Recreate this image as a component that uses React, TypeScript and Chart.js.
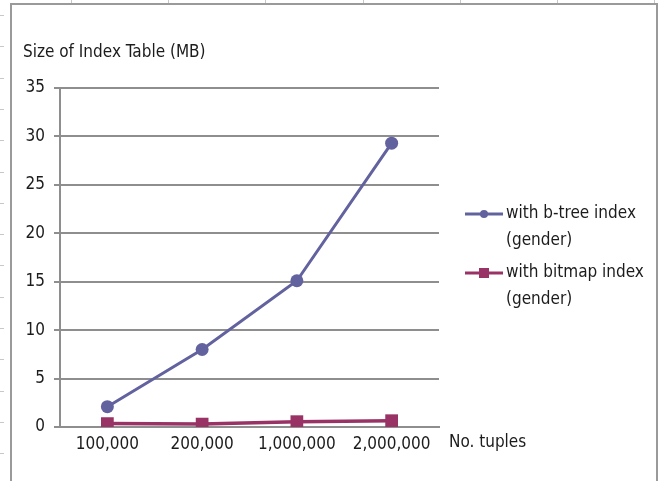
import React, { useEffect, useRef } from "react";
import { Chart, registerables } from "chart.js";

Chart.register(...registerables);

const categories = ["100,000", "200,000", "1,000,000", "2,000,000"];
const btreeValues = [2.1, 8.0, 15.1, 29.3];
const bitmapValues = [0.35, 0.3, 0.55, 0.65];
const seriesNames = [["with b-tree index", "(gender)"], ["with bitmap index", "(gender)"]];
const yTitle = "Size of Index Table (MB)";
const xTitle = "No. tuples";

const FONT = "'Liberation Sans Narrow', 'DejaVu Sans Condensed', sans-serif";
const TEXT = "#1c1c1c";
const GRID = "#8e8e8e";
const BTREE = "#62629f";
const BITMAP = "#993366";

const decor = {
  id: "decor",
  afterDraw(chart: any) {
    const ctx = chart.ctx;
    ctx.save();
    // outer frame
    ctx.strokeStyle = "#9a9a9a";
    ctx.lineWidth = 2;
    ctx.beginPath();
    ctx.moveTo(11, 481);
    ctx.lineTo(11, 4);
    ctx.lineTo(657, 4);
    ctx.lineTo(657, 481);
    ctx.stroke();
    // spreadsheet ticks
    ctx.strokeStyle = "#c8c8c8";
    ctx.lineWidth = 1;
    for (let x = 71; x < 657; x += 97.2) {
      ctx.beginPath();
      ctx.moveTo(Math.round(x) + 0.5, 0);
      ctx.lineTo(Math.round(x) + 0.5, 3);
      ctx.stroke();
    }
    for (let y = 15; y < 481; y += 31.3) {
      ctx.beginPath();
      ctx.moveTo(0, Math.round(y) + 0.5);
      ctx.lineTo(4, Math.round(y) + 0.5);
      ctx.stroke();
    }
    // titles
    ctx.fillStyle = TEXT;
    ctx.font = `17px ${FONT}`;
    ctx.textBaseline = "middle";
    ctx.textAlign = "left";
    ctx.fillText(yTitle, 23, 53);
    ctx.fillText(xTitle, 449, 443);
    // legend
    const rows = [214, 273];
    chart.data.datasets.forEach((ds: any, i: number) => {
      const y = rows[i];
      ctx.strokeStyle = ds.borderColor;
      ctx.lineWidth = 3;
      ctx.beginPath();
      ctx.moveTo(465, y);
      ctx.lineTo(503, y);
      ctx.stroke();
      ctx.fillStyle = ds.borderColor;
      if (ds.pointStyle === "rect") {
        ctx.fillRect(479, y - 5, 10, 10);
      } else {
        ctx.beginPath();
        ctx.arc(484, y, 4, 0, Math.PI * 2);
        ctx.fill();
      }
      ctx.fillStyle = TEXT;
      ctx.fillText(seriesNames[i][0], 506, y);
      ctx.fillText(seriesNames[i][1], 506, y + 27);
    });
    ctx.restore();
  },
};

export default function App() {
  const ref = useRef<HTMLCanvasElement>(null);
  useEffect(() => {
    const chart = new Chart(ref.current!, {
      type: "line",
      data: {
        labels: categories,
        datasets: [
          {
            label: seriesNames[0].join(" "),
            data: btreeValues,
            borderColor: BTREE,
            backgroundColor: BTREE,
            borderWidth: 3,
            pointStyle: "circle",
            pointRadius: 6.5,
            pointBorderWidth: 0,
            tension: 0,
          },
          {
            label: seriesNames[1].join(" "),
            data: bitmapValues,
            borderColor: BITMAP,
            backgroundColor: BITMAP,
            borderWidth: 3.5,
            pointStyle: "rect",
            pointRadius: 9,
            pointBorderWidth: 0,
            tension: 0,
          },
        ],
      },
      options: {
        animation: false,
        responsive: false,
        devicePixelRatio: 1,
        layout: { padding: { left: 0, top: 88, right: 223, bottom: 24 } },
        plugins: { legend: { display: false }, tooltip: { enabled: false } },
        scales: {
          x: {
            offset: true,
            grid: { display: false },
            border: { display: true, color: GRID, width: 2 },
            ticks: { color: TEXT, font: { family: FONT, size: 17 }, padding: -1, maxRotation: 0 },
            afterFit: (s: any) => { s.height = 30; },
          },
          y: {
            min: 0,
            max: 35,
            ticks: { stepSize: 5, color: TEXT, font: { family: FONT, size: 17 }, padding: 9 },
            grid: { color: GRID, lineWidth: 2, tickLength: 6 },
            border: { display: true, color: GRID, width: 2 },
            afterFit: (s: any) => { s.width = 60; },
          },
        },
      },
      plugins: [decor],
    });
    return () => chart.destroy();
  }, []);
  return (
    <div style={{ position: "absolute", left: 0, top: 0, width: 662, height: 481, background: "#fff" }}>
      <canvas ref={ref} width={662} height={481} />
    </div>
  );
}
